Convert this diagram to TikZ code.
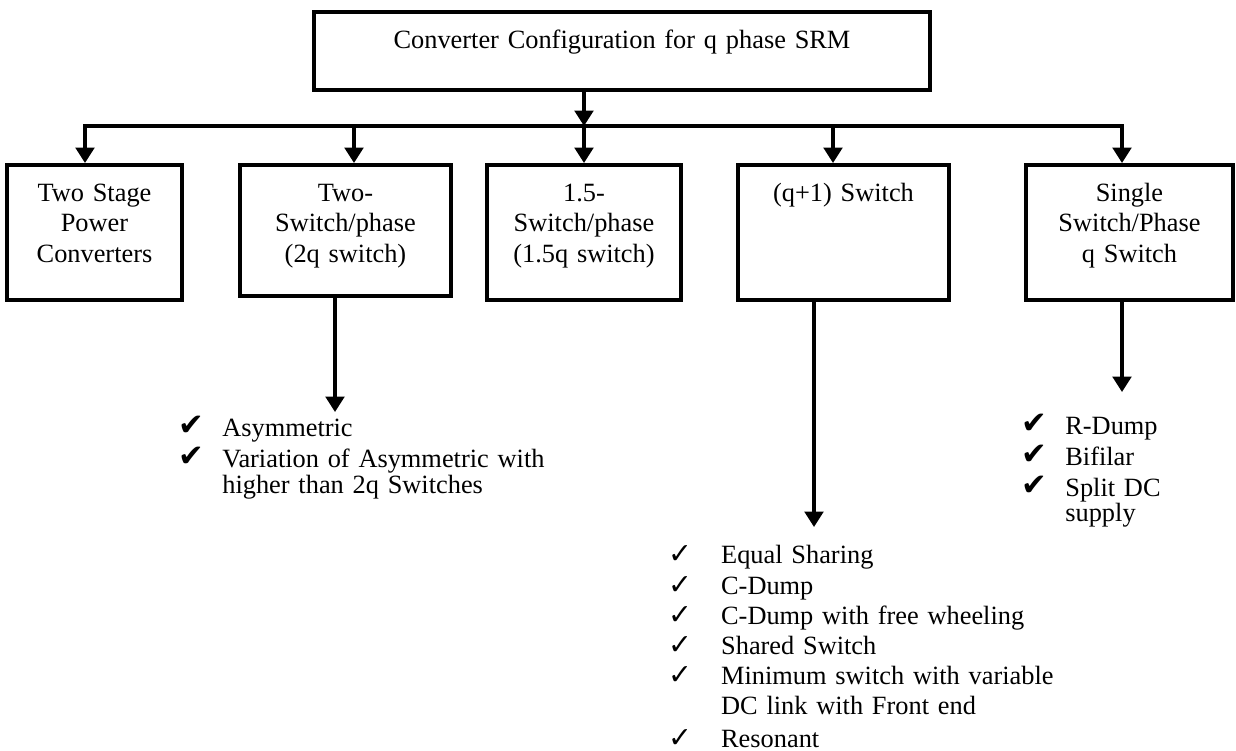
\documentclass[tikz,border=0pt]{standalone}
\usepackage{fontspec}
\setmainfont{Liberation Serif}
\newfontfamily\chkfont{DejaVu Sans}
\usepackage{tikz}
\usetikzlibrary{arrows.meta,positioning,calc}

\newcommand{\chkbold}{\makebox[20pt][l]{\smash{\raisebox{0.5pt}{\chkfont\fontsize{14}{14}\selectfont ✔}}}}
\newcommand{\chkthin}{\makebox[24pt][l]{\smash{\chkfont\fontsize{13}{13}\selectfont ✓}}}

\begin{document}
\begin{tikzpicture}[
    box/.style={draw, line width=1.8pt, align=center, inner sep=0pt, anchor=north, text height=0.58cm, font=\fontsize{12}{13.9}\selectfont},
    list/.style={align=left, inner sep=0pt, anchor=base west, text width=7cm, font=\fontsize{12}{13.7}\selectfont},
    arrow/.style={line width=1.4pt, -{Triangle[width=8.5pt,length=7pt]}}
]
\useasboundingbox (0,0) rectangle (19.776,12.016);

% Top block
\node (top) [box, text width=9.856cm, text depth=0.668cm] at (9.952,11.856) {Converter Configuration for q phase SRM};

% Converter families
\node (twostage) [box, text width=2.8cm, text depth=1.58cm] at (1.512,9.408) {Two Stage\\Power\\Converters};
\node (twosw) [box, text width=3.376cm, text depth=1.516cm] at (5.528,9.408) {Two-\\Switch/phase\\(2q switch)};
\node (onehalf) [box, text width=3.104cm, text depth=1.58cm] at (9.344,9.408) {1.5-\\Switch/phase\\(1.5q switch)};
\node (qone) [box, text width=3.376cm, text depth=1.58cm] at (13.496,9.408) {(q+1) Switch};
\node (single) [box, text width=3.312cm, text depth=1.58cm] at (18.072,9.408) {Single\\Switch/Phase\\q Switch};

% Bus
\coordinate (hub) at (9.344,10.0);
\coordinate (d1) at (1.36,10.0);
\coordinate (d2) at (5.664,10.0);
\coordinate (d4) at (13.328,10.0);
\coordinate (d5) at (17.952,10.0);

\draw [arrow] (top.south -| hub) -- (hub);
\draw [arrow] (hub) -- (onehalf.north);
\draw [arrow] (hub) -- (d1) -- (d1 |- twostage.north);
\draw [arrow] (hub) -- (d5) -- (d5 |- single.north);
\draw [arrow] (d2) -- (d2 |- twosw.north);
\draw [arrow] (d4) -- (d4 |- qone.north);

% Sub types
\coordinate (twtip) at (5.36,5.424);
\coordinate (qtip) at (13.024,3.584);
\coordinate (stip) at (17.952,5.744);
\draw [arrow] (twosw.south -| twtip) -- (twtip);
\draw [arrow] (qone.south -| qtip) -- (qtip);
\draw [arrow] (single.south -| stip) -- (stip);

\node (twolist) [list] at (2.848,5.024) {\chkbold Asymmetric\\[0.4pt]\chkbold Variation of Asymmetric with\\[-2.3pt]\hspace*{20pt}higher than 2q Switches};
\node (qlist) [list] at (10.688,2.992) {\chkthin Equal Sharing\\\chkthin C-Dump\\\chkthin C-Dump with free wheeling\\\chkthin Shared Switch\\\chkthin Minimum switch with variable\\\hspace*{24pt}DC link with Front end\\[1.3pt]\chkthin Resonant};
\node (slist) [list] at (16.336,5.056) {\chkbold R-Dump\\[0.4pt]\chkbold Bifilar\\[0.4pt]\chkbold Split DC\\[-2.3pt]\hspace*{20pt}supply};

\end{tikzpicture}
\end{document}
